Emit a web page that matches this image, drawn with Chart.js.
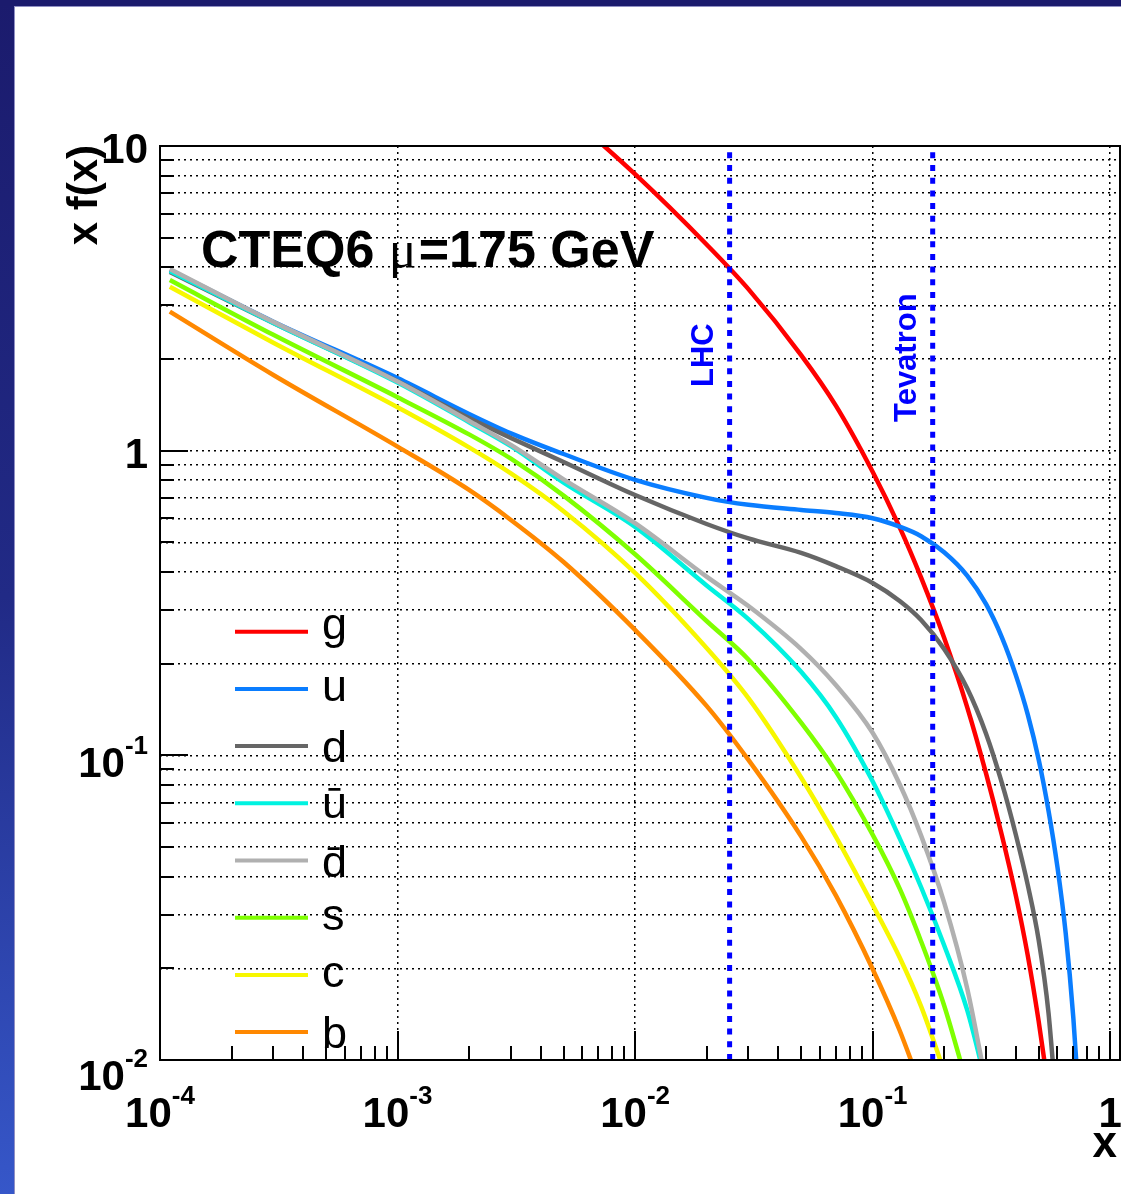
<!DOCTYPE html>
<html>
<head>
<meta charset="utf-8">
<script src="https://cdn.jsdelivr.net/npm/chart.js@4/dist/chart.umd.min.js"></script>
<style>
  html, body { margin: 0; padding: 0; background: #fff; overflow: hidden; }
  #pdf { display: block; }
</style>
</head>
<body>
<canvas id="pdf" width="1121" height="1194"></canvas>
<script>
// x values where every curve is sampled
const xValues = [1.1e-4, 3e-4, 1e-3, 2e-3, 3e-3, 5e-3, 0.01, 0.02, 0.03, 0.05, 0.07, 0.1,
  0.13, 0.16, 0.2, 0.25, 0.3, 0.35, 0.4, 0.45, 0.5, 0.55, 0.6, 0.65, 0.7, 0.75];

// x f(x) for each parton (null = outside the frame)
const gluon = [null, null, null, null, null, 13.1, 8.08, 4.75, 3.39, 2.06, 1.406, 0.853,
  0.560, 0.383, 0.243, 0.144, 0.0874, 0.0547, 0.0349, 0.0220, 0.0134, 0.0080, null, null, null, null];
const upQ = [3.92, 2.65, 1.73, 1.32, 1.14, 0.975, 0.802, 0.700, 0.664, 0.639, 0.624, 0.600,
  0.563, 0.524, 0.464, 0.389, 0.314, 0.244, 0.184, 0.136, 0.0969, 0.0659, 0.0429, 0.0260, 0.0137, 0.0061];
const downQ = [3.86, 2.625, 1.689, 1.280, 1.101, 0.918, 0.715, 0.5745, 0.515, 0.462, 0.418, 0.368,
  0.321, 0.278, 0.2235, 0.166, 0.118, 0.0812, 0.0552, 0.0375, 0.0248, 0.0143, 0.0063, null, null, null];
const upBar = [3.89, 2.627, 1.673, 1.24, 1.035, 0.785, 0.562, 0.361, 0.280, 0.188, 0.1337, 0.0822,
  0.0534, 0.0369, 0.0238, 0.0146, 0.0084, null, null, null, null, null, null, null, null, null];
const downBar = [3.95, 2.647, 1.686, 1.252, 1.045, 0.805, 0.578, 0.386, 0.309, 0.2232, 0.1702, 0.1186,
  0.0804, 0.0545, 0.0329, 0.0172, 0.0084, null, null, null, null, null, null, null, null, null];
const strange = [3.63, 2.40, 1.498, 1.131, 0.941, 0.712, 0.457, 0.276, 0.2064, 0.128, 0.0886, 0.0549,
  0.0365, 0.0245, 0.0151, 0.0083, null, null, null, null, null, null, null, null, null, null];
const charm = [3.45, 2.262, 1.388, 1.025, 0.842, 0.633, 0.397, 0.225, 0.154, 0.0846, 0.0541, 0.0323,
  0.0217, 0.0150, 0.0092, null, null, null, null, null, null, null, null, null, null, null];
const bottomQ = [2.86, 1.772, 1.031, 0.743, 0.5925, 0.431, 0.258, 0.1453, 0.0966, 0.0542, 0.0347, 0.0199,
  0.0125, 0.0081, null, null, null, null, null, null, null, null, null, null, null, null];

const partonNames = ["g", "u", "d", "\u016B", "d\u0304", "s", "c", "b"];
const partonValues = [gluon, upQ, downQ, upBar, downBar, strange, charm, bottomQ];
const partonColors = ["#ff0000", "#0a7dff", "#666666", "#00f2e0", "#b0b0b0", "#7fff00", "#f7f700", "#ff8800"];

// collider reference lines
const colliderNames = ["LHC", "Tevatron"];
const colliderX = [0.025, 0.179];

// axis decades
const xDecades = [-4, -3, -2, -1, 0];
const yDecades = [-2, -1, 0, 1];
const minorSteps = [2, 3, 4, 5, 6, 7, 8, 9];

const FONT = '"Liberation Sans", Arial, Helvetica, sans-serif';
const W = 1121, H = 1194;

// 1. Build datasets
function buildDatasets() {
  const sets = partonValues.map((vals, i) => ({
    label: partonNames[i],
    data: xValues.map((x, k) => ({ x: x, y: vals[k] })).filter((p) => p.y !== null),
    borderColor: partonColors[i],
    borderWidth: 4.5,
    pointRadius: 0,
    cubicInterpolationMode: "monotone",
    clip: 0,
    order: partonValues.length - i,
  }));
  colliderX.forEach((x, i) => {
    sets.push({
      label: colliderNames[i],
      data: [{ x: x, y: 0.01 }, { x: x, y: 10 }],
      borderColor: "#0000ff",
      borderWidth: 5,
      borderDash: [6, 6.7],
      pointRadius: 0,
      clip: 0,
      order: -1,
    });
  });
  return sets;
}

// Tick values used for grid lines
function decadeValues(decades, withMinor, maxVal) {
  const out = [];
  decades.forEach((d) => {
    out.push(Math.pow(10, d));
    if (withMinor) {
      minorSteps.forEach((m) => {
        const v = m * Math.pow(10, d);
        if (v <= maxVal) out.push(v);
      });
    }
  });
  return out.sort((a, b) => a - b);
}

// Draw "10" with a raised exponent, or plain "1"/"10"
function drawPowLabel(ctx, exp, x, baseline, align) {
  let base = "10";
  let sup = "";
  if (exp === 0) base = "1";
  else if (exp !== 1) sup = String(exp);
  ctx.font = "bold 42px " + FONT;
  const wb = ctx.measureText(base).width;
  ctx.font = "bold 26px " + FONT;
  const ws = sup ? ctx.measureText(sup).width : 0;
  const total = wb + ws;
  const left = align === "center" ? x - total / 2 : x - total;
  ctx.textAlign = "left";
  ctx.textBaseline = "alphabetic";
  ctx.font = "bold 42px " + FONT;
  ctx.fillText(base, left, baseline);
  if (sup) {
    ctx.font = "bold 26px " + FONT;
    ctx.fillText(sup, left + wb, baseline - 23);
  }
}

// 2. Page background and border
function drawPage(chart) {
  const ctx = chart.ctx;
  ctx.save();
  ctx.fillStyle = "#ffffff";
  ctx.fillRect(0, 0, W, H);
  const grad = ctx.createLinearGradient(0, 0, 0, H);
  grad.addColorStop(0, "#1b1b6d");
  grad.addColorStop(0.5, "#212a86");
  grad.addColorStop(1, "#3657c9");
  ctx.fillStyle = grad;
  ctx.fillRect(0, 0, 14, H);
  ctx.fillStyle = "#1b1b6d";
  ctx.fillRect(0, 0, W, 6);
  ctx.fillStyle = "#9090c4";
  ctx.fillRect(14, 6, 1, H - 6);
  ctx.fillRect(14, 6, W - 14, 1);
  ctx.restore();
}

// 3. Legend and text annotations inside the frame
function drawAnnotations(chart) {
  const ctx = chart.ctx;
  const xs = chart.scales.x;
  ctx.save();

  // legend
  ctx.font = "45px " + FONT;
  ctx.textAlign = "left";
  ctx.textBaseline = "alphabetic";
  partonNames.forEach((name, i) => {
    const y = 631.7 + i * 57.2;
    ctx.strokeStyle = partonColors[i];
    ctx.lineWidth = 4;
    ctx.beginPath();
    ctx.moveTo(235, y);
    ctx.lineTo(308, y);
    ctx.stroke();
    const m = ctx.measureText(name);
    const base = y + (m.actualBoundingBoxAscent - m.actualBoundingBoxDescent) / 2;
    ctx.fillStyle = "#000";
    ctx.fillText(name, 322, base);
  });

  // title
  ctx.fillStyle = "#000";
  ctx.font = "bold 52px " + FONT;
  let tx = 201;
  ctx.fillText("CTEQ6 ", tx, 267);
  tx += ctx.measureText("CTEQ6 ").width;
  ctx.font = '52px "Liberation Serif", "DejaVu Serif", serif';
  ctx.fillText("\u03BC", tx, 267);
  tx += ctx.measureText("\u03BC").width + 2;
  ctx.font = "bold 52px " + FONT;
  ctx.fillText("=175 GeV", tx, 267);

  // collider labels, rotated next to their lines
  ctx.fillStyle = "#0000ff";
  ctx.font = "bold 31px " + FONT;
  const labelTop = [387, 422];
  colliderX.forEach((x, i) => {
    const px = xs.getPixelForValue(x);
    ctx.save();
    ctx.translate(px - 17, labelTop[i]);
    ctx.rotate(-Math.PI / 2);
    ctx.fillText(colliderNames[i], 0, 0);
    ctx.restore();
  });
  ctx.restore();
}

// 4. Frame, tick marks, tick labels and axis titles
function drawAxes(chart) {
  const ctx = chart.ctx;
  const a = chart.chartArea;
  const xs = chart.scales.x;
  const ys = chart.scales.y;
  ctx.save();
  ctx.strokeStyle = "#000";
  ctx.lineWidth = 2;

  // tick marks pointing into the frame
  ctx.beginPath();
  decadeValues(xDecades, true, 1.1).forEach((v) => {
    const px = Math.round(xs.getPixelForValue(v));
    const major = Math.abs(Math.log10(v) - Math.round(Math.log10(v))) < 1e-6;
    ctx.moveTo(px, a.bottom);
    ctx.lineTo(px, a.bottom - (major ? 29 : 14));
  });
  decadeValues(yDecades, true, 10).forEach((v) => {
    const py = Math.round(ys.getPixelForValue(v));
    const major = Math.abs(Math.log10(v) - Math.round(Math.log10(v))) < 1e-6;
    ctx.moveTo(a.left, py);
    ctx.lineTo(a.left + (major ? 28 : 14), py);
  });
  ctx.stroke();

  ctx.strokeRect(a.left, a.top, a.right - a.left, a.bottom - a.top);

  // labels
  ctx.fillStyle = "#000";
  xDecades.forEach((d) => {
    drawPowLabel(ctx, d, xs.getPixelForValue(Math.pow(10, d)), 1127, "center");
  });
  yDecades.forEach((d) => {
    const py = ys.getPixelForValue(Math.pow(10, d));
    let off = d >= 0 ? 17 : 22;
    if (d === -2) off = 30;
    drawPowLabel(ctx, d, 148, py + off, "right");
  });

  // axis titles
  ctx.font = "bold 44px " + FONT;
  ctx.textAlign = "right";
  ctx.fillText("x", 1117, 1157);
  ctx.save();
  ctx.font = "bold 42px " + FONT;
  ctx.translate(97, 145);
  ctx.rotate(-Math.PI / 2);
  ctx.textAlign = "right";
  ctx.fillText("x f(x)", 0, 0);
  ctx.restore();
  ctx.restore();
}

const pdfPlugin = {
  id: "pdfPlot",
  beforeDraw: drawPage,
  afterDatasetsDraw: drawAnnotations,
  afterDraw: drawAxes,
};

// 5. Create the chart
new Chart(document.getElementById("pdf"), {
  type: "line",
  data: { datasets: buildDatasets() },
  options: {
    responsive: false,
    animation: false,
    layout: { padding: { left: 0, top: 146, right: 1, bottom: 0 } },
    plugins: { legend: { display: false }, tooltip: { enabled: false } },
    scales: {
      x: {
        type: "logarithmic",
        min: 1e-4,
        max: 1.1,
        afterBuildTicks: (s) => { s.ticks = decadeValues(xDecades, false, 1.1).map((v) => ({ value: v })); },
        afterFit: (s) => { s.height = 134; },
        ticks: { display: false },
        grid: { color: "#000", lineWidth: 1.5, drawTicks: false },
        border: { display: false, dash: [2, 4] },
      },
      y: {
        type: "logarithmic",
        min: 0.01,
        max: 10,
        afterBuildTicks: (s) => { s.ticks = decadeValues(yDecades, true, 10).map((v) => ({ value: v })); },
        afterFit: (s) => { s.width = 160; },
        ticks: { display: false },
        grid: { color: "#000", lineWidth: 1.5, drawTicks: false },
        border: { display: false, dash: [2, 4] },
      },
    },
  },
  plugins: [pdfPlugin],
});
</script>
</body>
</html>
